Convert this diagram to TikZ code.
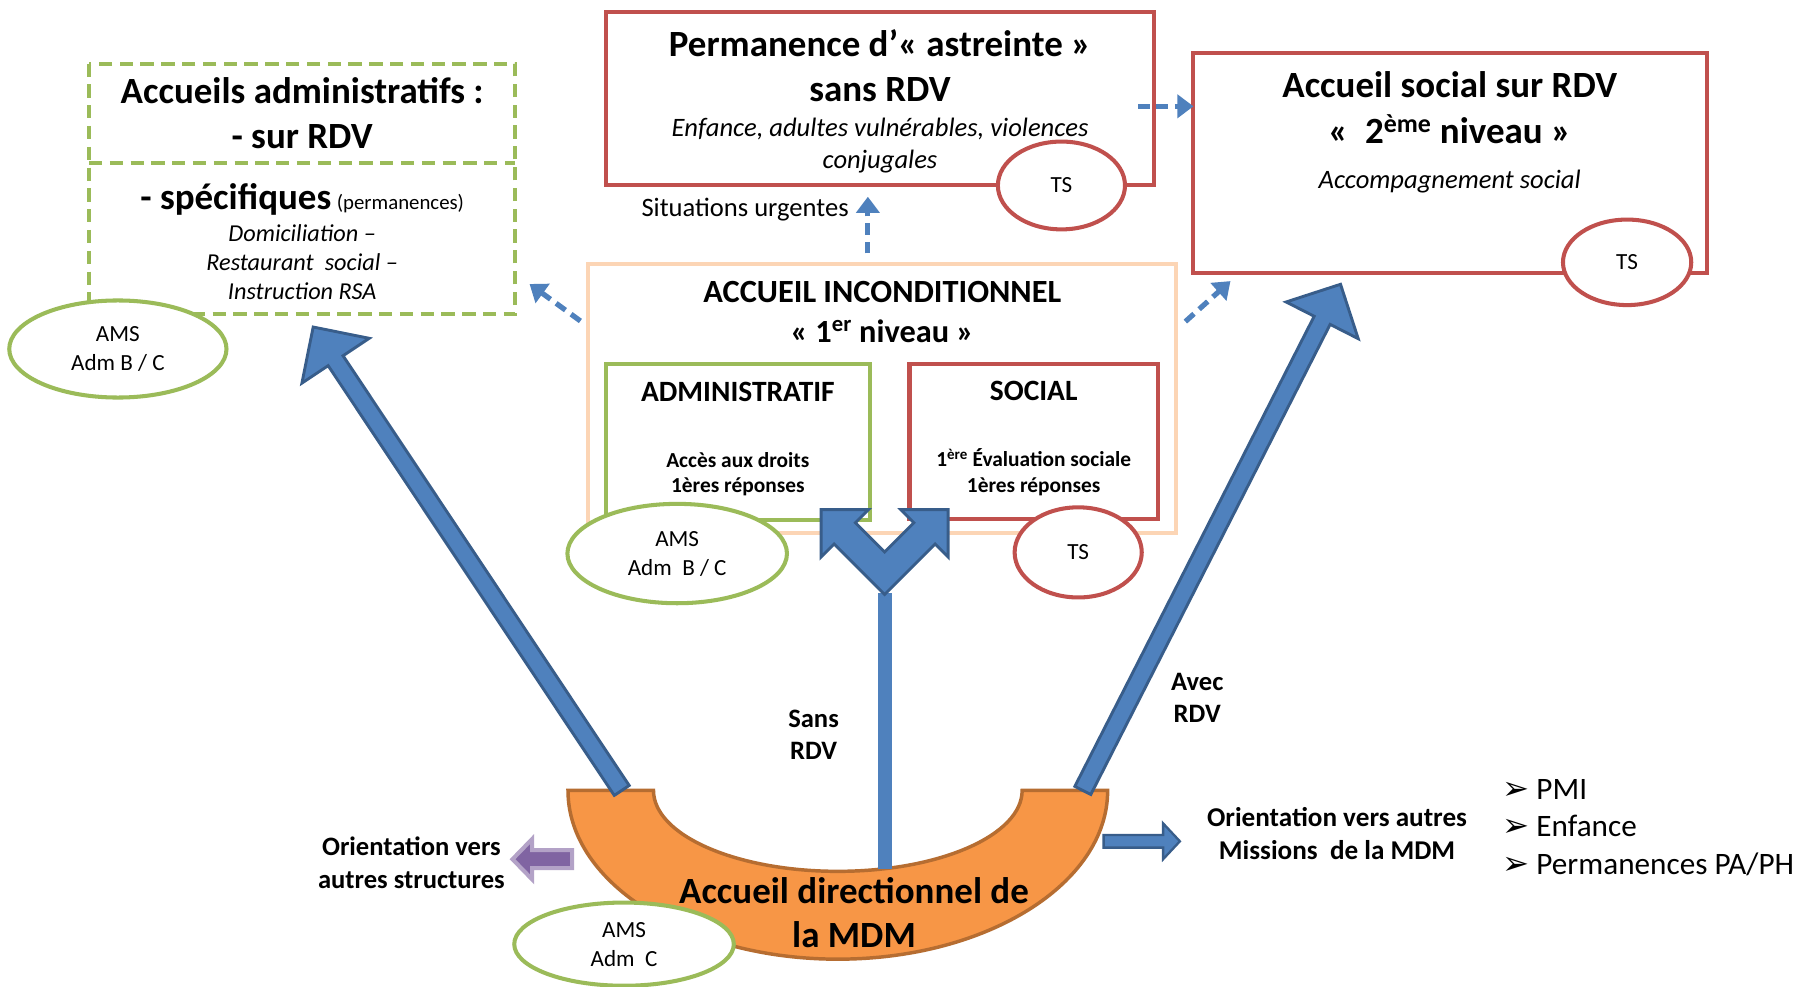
\documentclass[tikz,border=0pt]{standalone}
\usepackage{fontspec}
\setmainfont{Carlito}
\newfontfamily\dejavu{DejaVu Sans}
\usepackage{xcolor}
\usepackage{tikz}
\usetikzlibrary{shapes.geometric, arrows.meta, calc, positioning}

\definecolor{admgreen}{RGB}{155,187,89}
\definecolor{socred}{RGB}{192,80,77}
\definecolor{incpeach}{RGB}{252,213,181}
\definecolor{accblue}{RGB}{79,129,189}
\definecolor{accblueline}{RGB}{56,93,138}
\definecolor{dirorange}{RGB}{247,150,70}
\definecolor{dirline}{RGB}{182,109,49}
\definecolor{orpurple}{RGB}{128,100,162}
\definecolor{orpurpleline}{RGB}{179,162,199}

\tikzstyle{admbox} = [rectangle, minimum width=369pt, inner sep=2pt, outer sep=0pt, align=center]
\tikzstyle{admline} = [draw=admgreen, line width=3.5pt, dash pattern=on 11.5pt off 6.5pt]
\tikzstyle{socbox} = [rectangle, draw=socred, line width=3.5pt, inner sep=2pt, align=center]
\tikzstyle{incbox} = [rectangle, draw=incpeach, line width=3.5pt, minimum width=509pt, minimum height=232.5pt]
\tikzstyle{amsell} = [ellipse, draw=admgreen, fill=white, line width=3.5pt, minimum width=190pt, minimum height=86pt, inner sep=0pt, align=center, font=\fontsize{20}{25}\selectfont]
\tikzstyle{tsell} = [ellipse, draw=socred, fill=white, line width=3.5pt, minimum width=110pt, minimum height=76pt, inner sep=0pt, font=\fontsize{20}{25}\selectfont]
\tikzstyle{titletxt} = [align=center, font=\fontsize{32}{39}\selectfont\bfseries]
\tikzstyle{boldtxt} = [align=center, font=\fontsize{23}{27.5}\selectfont\bfseries]
\tikzstyle{bigarrow} = [fill=accblue, draw=accblueline, line width=2.5pt, line join=miter]
\tikzstyle{smallarrow} = [fill=accblue, draw=accblueline, line width=2pt, line join=miter]
\tikzstyle{purparrow} = [fill=orpurple, draw=orpurpleline, line width=3.5pt, line join=miter]
\tikzstyle{dirarc} = [fill=dirorange, draw=dirline, line width=3pt, line join=miter]
\tikzstyle{dasharrow} = [draw=accblue, line width=4.5pt, dash pattern=on 10pt off 6pt, -{Triangle[length=14pt,width=20pt]}]

% block arrow: [style]{start}{tip}{shaft half width}{head half width}{head length}
\newcommand{\blockarrow}[6][bigarrow]{%
  \path ($(#3)!#6!(#2)$) coordinate (bab);
  \filldraw[#1] ($(#2)!#4!90:(#3)$) -- ($(bab)!#4!-90:(#2)$) -- ($(bab)!#5!-90:(#2)$) -- (#3)
    -- ($(bab)!#5!90:(#2)$) -- ($(bab)!#4!90:(#2)$) -- ($(#2)!#4!-90:(#3)$) -- cycle;}
\newcommand{\subit}{\fontsize{23}{28}\selectfont\mdseries\itshape}
\newcommand{\bul}{\makebox[29pt][l]{\dejavu\fontsize{28}{28}\selectfont ➢}}

\begin{document}
\begin{tikzpicture}[x=1pt, y=-1pt]
\path[use as bounding box, fill=white] (0,0) rectangle (1568,854);

% accueils administratifs
\node (admtop) [admbox, minimum height=86pt, titletxt] at (261.5,98) {Accueils administratifs :\\- sur RDV};
\node (admspec) [admbox, minimum height=131pt, below=0pt of admtop, font=\fontsize{21}{25}\selectfont\itshape] {\rule{0pt}{27pt}{\upshape\bfseries\fontsize{32}{29}\selectfont - spécifiques} {\upshape\fontsize{18}{22}\selectfont (permanences)}\\[3pt]Domiciliation –\\Restaurant\ \ social –\\Instruction RSA};
\draw [admline] (admtop.north west) rectangle (admspec.south east);
\draw [admline] (admspec.north west) -- (admspec.north east);

% permanence et accueil social
\node (perm) [socbox, minimum width=475pt, minimum height=150pt, titletxt] at (761.5,85) {\rule{0pt}{29pt}Permanence d’« astreinte »\\sans RDV\\[-9pt]{\subit Enfance, adultes vulnérables, violences}\\[-11pt]{\subit conjugales}};
\node (soc) [socbox, minimum width=445pt, minimum height=190pt] at (1254.5,141) {};
\node (socttl) [titletxt] at (1254.5,114.5) {Accueil social sur RDV\\«\ \ 2\textsuperscript{ème} niveau »\\\subit Accompagnement social};

% accueil inconditionnel
\node (inc) [incbox] at (763.5,344.75) {};
\node (incttl) [align=center, font=\fontsize{28}{34}\selectfont\bfseries] at (763.5,270) {ACCUEIL INCONDITIONNEL\\« 1\textsuperscript{er} niveau »};
\node (adm) [rectangle, draw=admgreen, line width=3.5pt, minimum width=229pt, minimum height=135pt, inner sep=2pt, align=center, font=\fontsize{18.5}{22}\selectfont\bfseries] at (638.5,382.5) {{\fontsize{25.5}{30}\selectfont ADMINISTRATIF}\\[35pt]Accès aux droits\\1ères réponses\rule[-8pt]{0pt}{0pt}};
\node (socI) [socbox, minimum width=215pt, minimum height=134pt, font=\fontsize{18.5}{22}\selectfont\bfseries] at (894.5,382) {{\fontsize{25.5}{30}\selectfont SOCIAL}\\[35pt]1\textsuperscript{ère} Évaluation sociale\\1ères réponses\rule[-8pt]{0pt}{0pt}};

% intervenants
\node (ams1) [amsell, minimum width=188pt, minimum height=84pt] at (102,302) {AMS\\Adm B / C};
\node (ts1) [tsell] at (918.5,160.5) {TS};
\node (ts2) [tsell, minimum width=111pt, minimum height=74pt] at (1408,227) {TS};
\node (ams2) [amsell] at (586,479) {AMS\\Adm\ \ B / C};
\node (ts3) [tsell, minimum height=78pt] at (933,478) {TS};

% accueil directionnel
\filldraw [dirarc] (491.5,684) arc[start angle=180, end angle=0, x radius=233.5, y radius=146] -- (884.5,684) arc[start angle=0, end angle=180, x radius=159.5, y radius=70] -- cycle;

\coordinate (bl0) at (538,684);
\coordinate (bl1) at (271,283);
\coordinate (br0) at (937,684);
\coordinate (br1) at (1160,246);
\coordinate (fork) at (765.5,496);
\blockarrow{bl0}{bl1}{7.75pt}{35pt}{35pt}
\blockarrow{br0}{br1}{7.75pt}{35pt}{35pt}

\begin{scope}[shift={(fork)}]
\fill [accblue] (-6,17) rectangle (6,256);
\filldraw [bigarrow] (0,18.4) -- (-43.7,-25.3) -- (-55,-14) -- (-55,-55) -- (-14,-55) -- (-25.3,-43.7) -- (0,-18.4)
  -- (25.3,-43.7) -- (14,-55) -- (55,-55) -- (55,-14) -- (43.7,-25.3) -- cycle;
\end{scope}

\coordinate (or0) at (955,728);
\coordinate (or1) at (1021,728);
\coordinate (ol0) at (495,743.5);
\coordinate (ol1) at (443.5,743.5);
\blockarrow[smallarrow]{or0}{or1}{5.5pt}{15.5pt}{14.5pt}
\blockarrow[purparrow]{ol0}{ol1}{7.8pt}{17.5pt}{17pt}

\node (ams3) [amsell, minimum height=72pt] at (540,817) {AMS\\Adm\ \ C};

% fleches pointillees
\draw [dasharrow] ([shift={(-5,51)}]inc.north west) -- ++(-44,-32);
\draw [dasharrow] ([shift={(-12.5,-7.5)}]inc.north) -- ++(0,-49) node[pos=0.78, left=11pt, font=\fontsize{23}{28}\selectfont] {Situations urgentes};
\draw [dasharrow] ([shift={(-16,7)}]perm.east) -- ++(48,0);
\draw [dasharrow] ([shift={(6,51.5)}]inc.north east) -- ++(39,-35);

% textes
\node (sans) [boldtxt] at (704,636) {Sans\\RDV};
\node (avec) [boldtxt] at (1036,604) {Avec\\RDV};
\node (dir) [titletxt, font=\fontsize{32}{38}\selectfont\bfseries] at (739,790) {Accueil directionnel de\\la MDM};
\node (orl) [boldtxt, font=\fontsize{23}{28}\selectfont\bfseries] at (356,746.5) {Orientation vers\\autres structures};
\node (orr) [boldtxt, font=\fontsize{23.5}{29}\selectfont\bfseries] at (1157,721.5) {Orientation vers autres\\Missions\ \ de la MDM};
\node (mis) [anchor=west, align=left, font=\fontsize{27}{32.5}\selectfont] at (1297,716) {\bul PMI\\\bul Enfance\\\bul Permanences PA/PH};

\end{tikzpicture}
\end{document}
